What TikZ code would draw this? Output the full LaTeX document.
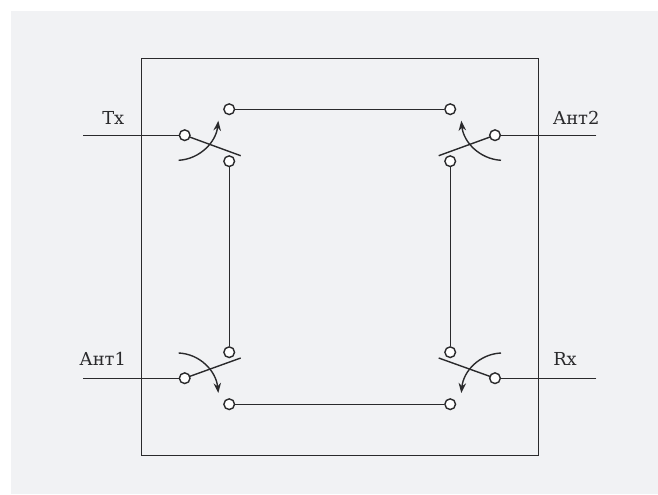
\documentclass[tikz,border=0pt]{standalone}
\usepackage{fontspec}
\setmainfont{DejaVu Serif}
\usetikzlibrary{arrows.meta}
\definecolor{bgc}{HTML}{F1F2F4}
\definecolor{ink}{HTML}{2A2A2C}
\tikzset{
  wire/.style={draw=ink,line width=1.05pt},
  frameline/.style={draw=ink,line width=1.05pt},
  blade/.style={draw=ink,line width=1.05pt},
  term/.style={circle,draw=ink,fill=white,line width=1.05pt,inner sep=0pt,minimum size=8pt},
  motion/.style={draw=ink,line width=1.05pt,-{Stealth[length=7.5pt,width=5.6pt]}},
  lbl/.style={text=ink,font=\fontsize{13.4}{13.4}\selectfont,inner sep=0pt,anchor=base west}
}
\begin{document}
\begin{tikzpicture}[x=0.75pt,y=-0.75pt]
\useasboundingbox (0,0) rectangle (658,494);
\fill[white] (0,0) rectangle (658,494);
\fill[bgc] (11,11) rectangle (658,494);
\draw[frameline] (141.2,58.2) rectangle (538.2,455.7);
% free ends
\coordinate (inTx) at (83.3,135.2);
\coordinate (inA1) at (83.3,378.2);
\coordinate (inA2) at (596.3,135.2);
\coordinate (inRx) at (596.3,378.2);
\coordinate (bTL) at (240.7,155.7);
\coordinate (bBL) at (240.7,358);
\coordinate (bTR) at (438.7,155.7);
\coordinate (bBR) at (438.7,358);
% wires first, terminals on top
\coordinate (pTx) at (184.7,135.2);
\coordinate (pA1) at (184.7,378.2);
\coordinate (pA2) at (495,135.2);
\coordinate (pRx) at (495,378.2);
\draw[wire] (inTx) -- (pTx);
\draw[wire] (inA1) -- (pA1);
\draw[wire] (inA2) -- (pA2);
\draw[wire] (inRx) -- (pRx);
\draw[blade] (pTx) -- (bTL);
\draw[blade] (pA1) -- (bBL);
\draw[blade] (pA2) -- (bTR);
\draw[blade] (pRx) -- (bBR);
\node[term] (tx) at (pTx) {};
\node[term] (a1) at (pA1) {};
\node[term] (a2) at (pA2) {};
\node[term] (rx) at (pRx) {};
\node[term] (tl) at (229.2,109.2) {};
\node[term] (tr) at (450.2,109.2) {};
\node[term] (lt) at (229.2,161.2) {};
\node[term] (rt) at (450.2,161.2) {};
\node[term] (lb) at (229.2,352.2) {};
\node[term] (rb) at (450.2,352.2) {};
\node[term] (bl) at (229.2,404.2) {};
\node[term] (br) at (450.2,404.2) {};
\draw[wire] (tl) -- (tr);
\draw[wire] (bl) -- (br);
\draw[wire] (lt) -- (lb);
\draw[wire] (rt) -- (rb);
% motion arrows
\coordinate (mTxS) at (178.7,160.3);
\coordinate (mTxE) at (218.3,120.7);
\coordinate (mA1S) at (178.7,353);
\coordinate (mA1E) at (218.3,393);
\coordinate (mA2S) at (501,160.3);
\coordinate (mA2E) at (461.3,120.7);
\coordinate (mRxS) at (501,353);
\coordinate (mRxE) at (461.3,393);
\draw[motion] (mTxS) .. controls (200,159) and (216,142) .. (mTxE);
\draw[motion] (mA1S) .. controls (200,354) and (216,371) .. (mA1E);
\draw[motion] (mA2S) .. controls (479.5,159) and (463.5,142) .. (mA2E);
\draw[motion] (mRxS) .. controls (479.5,354) and (463.5,371) .. (mRxE);
% labels
\node[lbl] (ltx) at (102,124) {Tx};
\node[lbl] (la1) at (79,365) {Ант1};
\node[lbl] (la2) at (552.5,124) {Ант2};
\node[lbl] (lrx) at (553,365) {Rx};
\end{tikzpicture}
\end{document}
